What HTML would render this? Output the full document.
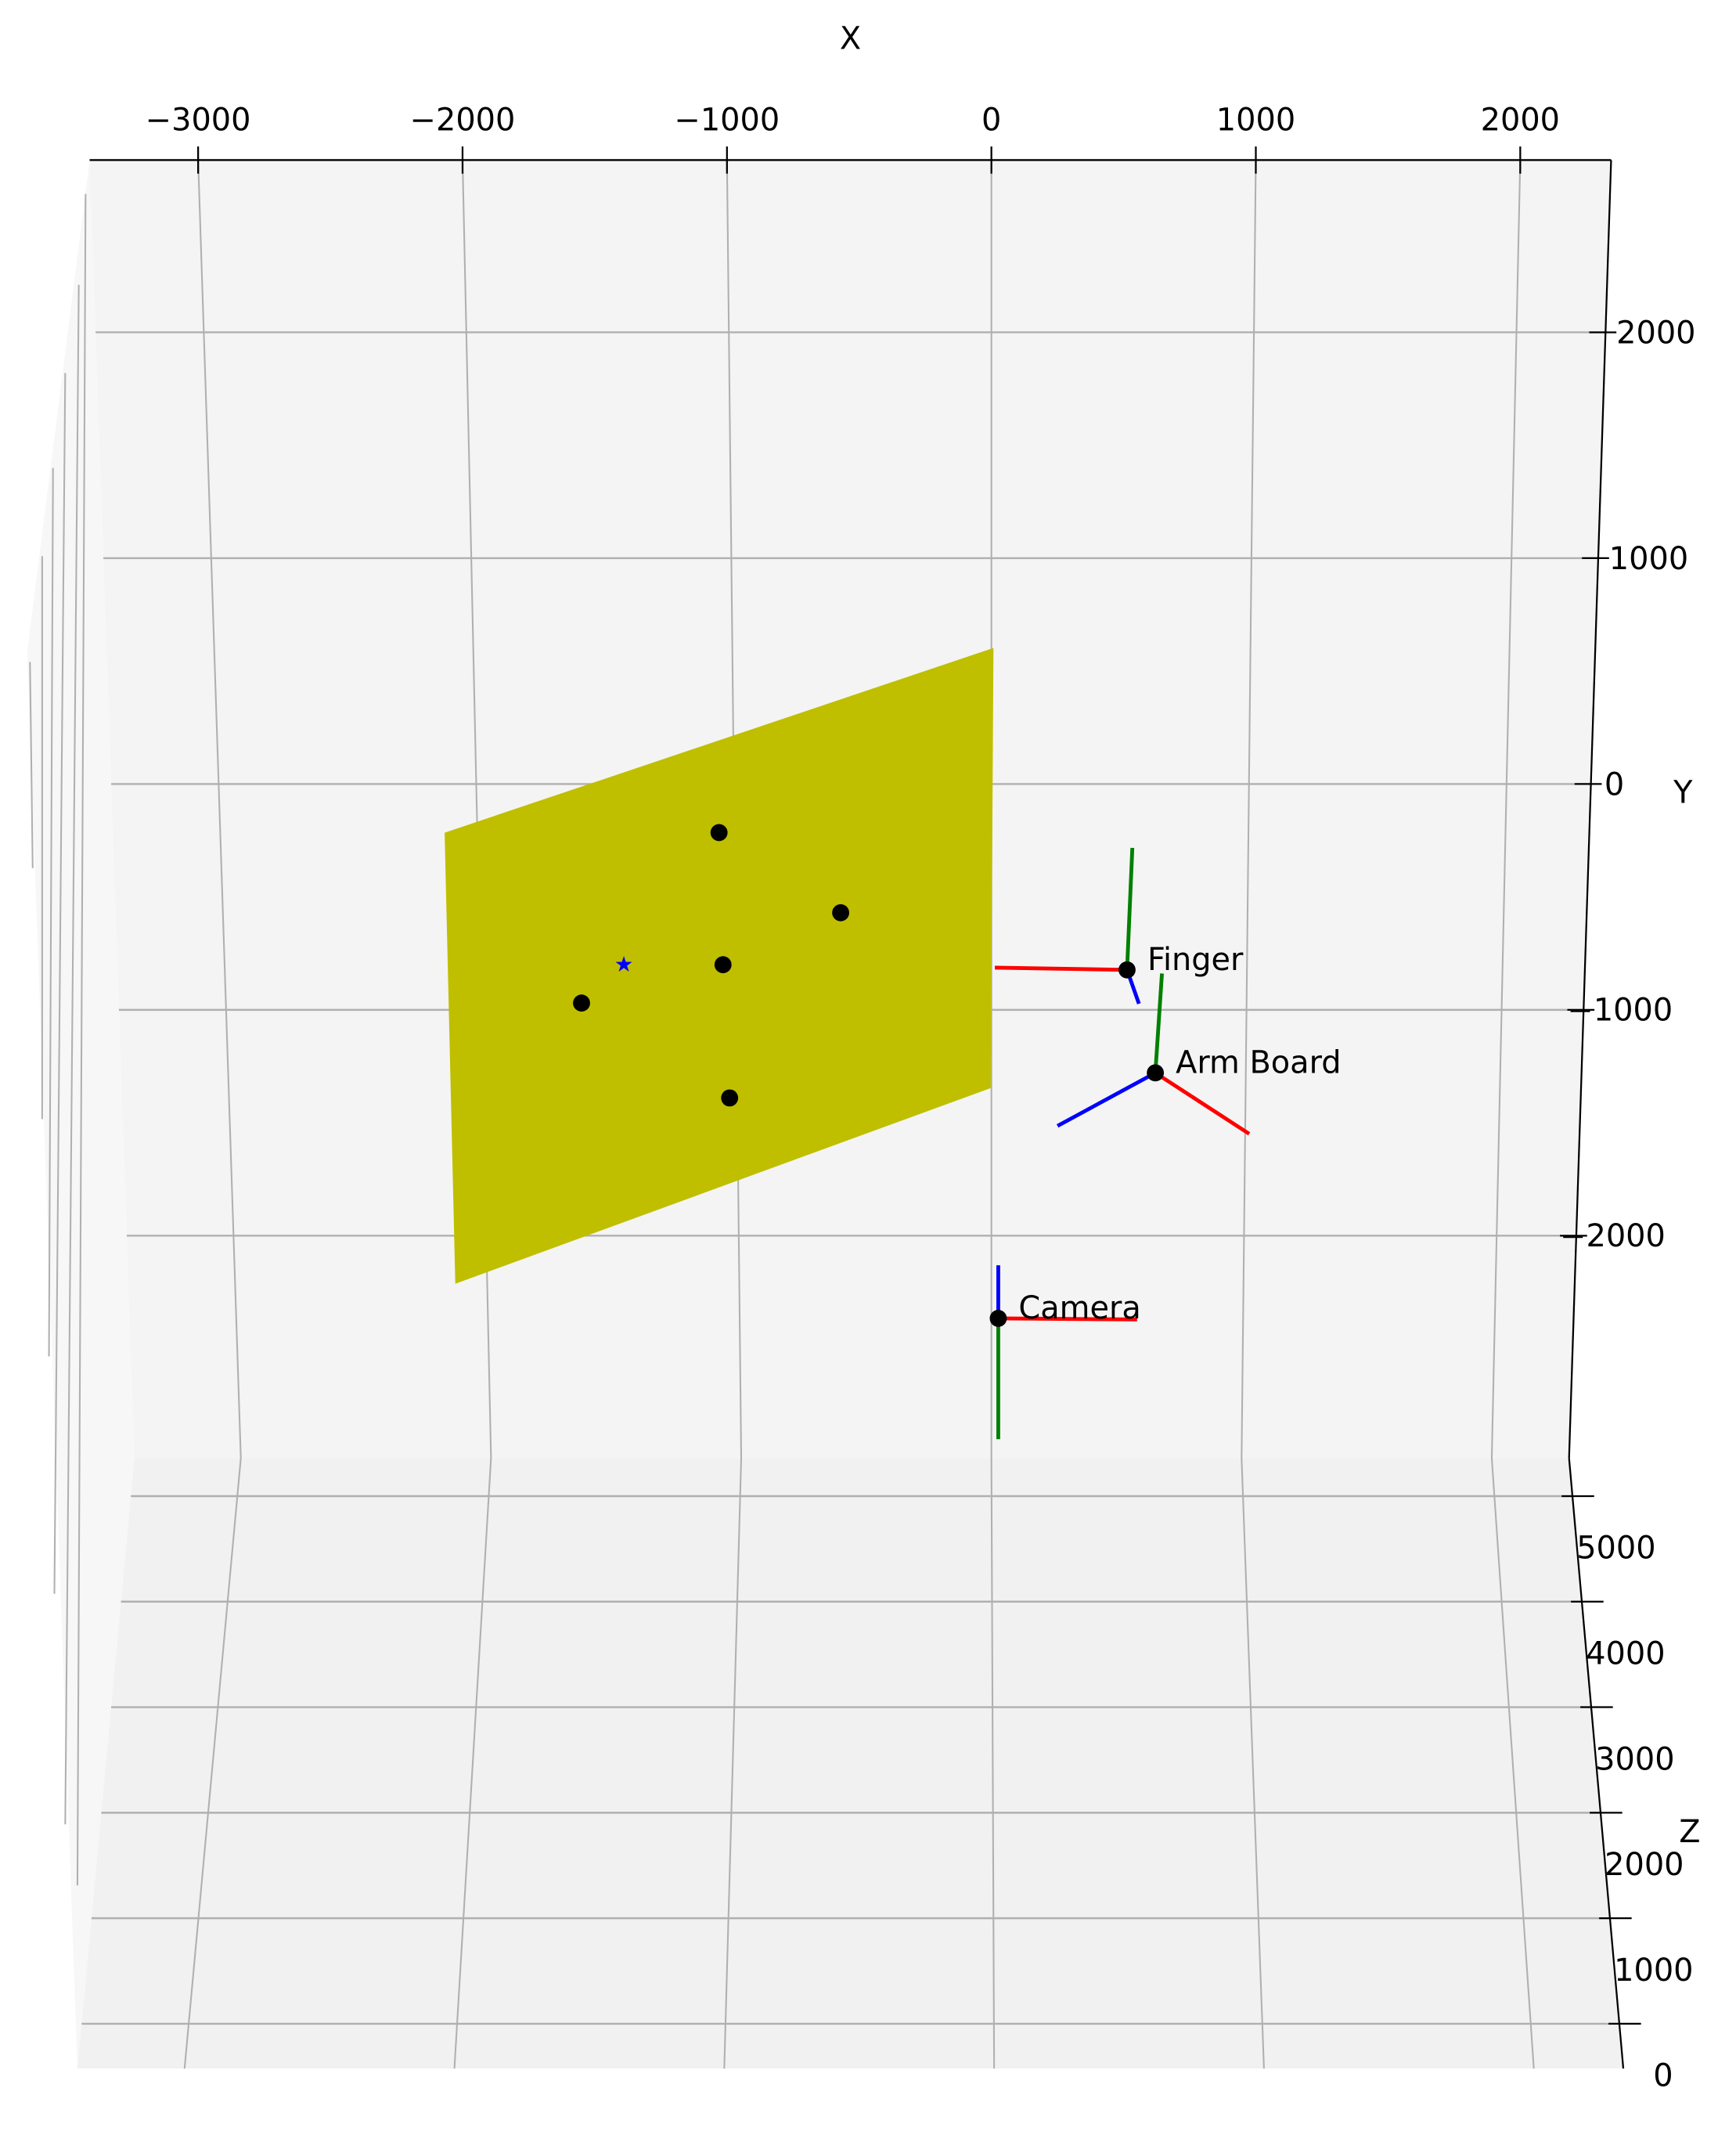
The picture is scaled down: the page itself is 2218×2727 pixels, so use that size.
<!DOCTYPE html>
<html><head><meta charset="utf-8"><style>
html,body{margin:0;padding:0;background:#fff}
svg{display:block}
text{font-family:"DejaVu Sans","Liberation Sans",sans-serif;font-size:23px;fill:#000}
</style></head><body>
<svg id="chart" width="2218" height="2727" viewBox="0 0 1280 1574" xmlns="http://www.w3.org/2000/svg">
<g>
<polygon points="66,118 99,1075 57,1525 20,480" fill="#f7f7f7"/>
<polygon points="66,118 1188,118 1157,1075 99,1075" fill="#f4f4f4"/>
<polygon points="99,1075 1157,1075 1197,1525 57,1525" fill="#f1f1f1"/>
</g>
<g id="grid" stroke="#b0b0b0" stroke-width="1.2" fill="none">
<path d="M63,143 L57,1390 M58,210 L48,1345 M48,275 L40,1175 M39,345 L36,1000 M31,410 L31,825 M22,488 L24,640"/>
</g>
<g id="marks"></g>
<g stroke="#000" stroke-width="1.3" fill="none">
<line x1="66" y1="118" x2="1188" y2="118"/>
<line x1="1188" y1="118" x2="1157" y2="1075"/>
<line x1="1157" y1="1075" x2="1197" y2="1525"/>
</g>
<text x="627" y="36" text-anchor="middle">X</text>
<text x="1241" y="592" text-anchor="middle">Y</text>
<text x="1246" y="1358" text-anchor="middle">Z</text>
</svg>
<script>
const xTicks=[-3000,-2000,-1000,0,1000,2000];
const yTicks=[2000,1000,0,-1000,-2000];
const zTicks=[5000,4000,3000,2000,1000,0];
const planeX=[-2060,0,-10,-2020];
const planeY=[-222,590,-1340,-2200];
const dotX=[-1030,-570,-1015,-1550,-990];
const dotY=[-215,-570,-800,-970,-1390];
const starX=[-1390];
const starY=[-800];
const frameNames=["Finger","Arm Board","Camera"];
const frameX=[513,620,26];
const frameY=[-823,-1279,-2366];
const redX=[-1,0.71,1.05];
const redY=[0.02,-0.54,-0.01];
const greenX=[0.04,0.05,0];
const greenY=[1.08,0.88,-1.07];
const blueX=[0.09,-0.74,0];
const blueY=[-0.3,-0.47,0.47];
const axisLen=[500,500,500];
const NS="http://www.w3.org/2000/svg";
function sx(x){return 731+x*0.195;}
function sy(y){return 578-y*0.1665;}
const marks=document.getElementById('marks');
const grid=document.getElementById('grid');
function el(t,a,p){const e=document.createElementNS(NS,t);for(const k in a)e.setAttribute(k,a[k]);(p||marks).appendChild(e);return e;}
xTicks.forEach((v,i)=>{
  const top=sx(v), mid=731+v*0.1845, bot=733+v*0.199;
  const g=el('path',{d:`M${top},118 L${mid},1075 L${bot},1525`,stroke:'#b0b0b0','stroke-width':1.2,fill:'none'},grid);
  
  
  const t=el('line',{x1:top,y1:108,x2:top,y2:128,stroke:'#000','stroke-width':1.3});
  
  
  const l=el('text',{x:top,y:96,'text-anchor':'middle'});
  l.textContent=(v<0?'\u2212':'')+Math.abs(v);
  
  
});
yTicks.forEach(v=>{
  const y=sy(v), f=(y-118)/957, lx=66+33*f, rx=1188-31*f;
  const g=el('line',{x1:lx,y1:y,x2:rx,y2:y,stroke:'#b0b0b0','stroke-width':1.4},grid);
  
  
  const t=el('line',{x1:rx-12,y1:y,x2:rx+8,y2:y,stroke:'#000','stroke-width':1.3});
  
  
  const l=el('text',{x:rx+(v<0?-12:v==0?10:8),y:y+8});
  l.textContent=(v<0?'\u2212':'')+Math.abs(v);
  
  
});
zTicks.forEach((v,i)=>{
  const y=1492-v*0.0778, f=(y-1075)/450, lx=99-42*f, rx=1157+40*f;
  const g=el('line',{x1:lx,y1:y,x2:rx,y2:y,stroke:'#b0b0b0','stroke-width':1.4},grid);
  
  
  const t=el('line',{x1:rx-8,y1:y,x2:rx+16,y2:y,stroke:'#000','stroke-width':1.3});
  
  
  const l=el('text',{x:rx+(v==0?25:3),y:y+46});
  l.textContent=String(v);
  
  
});
const pts=planeX.map((x,i)=>sx(x)+','+sy(planeY[i])).join(' ');
const plane=el('polygon',{points:pts,fill:'#bfbf00',stroke:'#bfbf00','stroke-width':3});


dotX.forEach((x,i)=>{
  const c=el('circle',{cx:sx(x),cy:sy(dotY[i]),r:6.3,fill:'#000'});
  
  
});
starX.forEach((x,i)=>{
  const t=el('text',{x:sx(x),y:sy(starY[i])+5,'text-anchor':'middle',style:'fill:#0000ff;font-size:16px'});
  t.textContent='\u2605';
  
  
});
frameNames.forEach((n,i)=>{
  const ox=frameX[i], oy=frameY[i], L=axisLen[i];
  const cx=sx(ox), cy=sy(oy);
  const segs=[['#ff0000',redX[i],redY[i],'red-axis'],['#008000',greenX[i],greenY[i],'green-axis'],['#0000ff',blueX[i],blueY[i],'blue-axis']];
  segs.forEach(s=>{
    const ln=el('line',{x1:cx,y1:cy,x2:sx(ox+s[1]*L),y2:sy(oy+s[2]*L),stroke:s[0],'stroke-width':2.8});
    
    
  });
  const c=el('circle',{cx:cx,cy:cy,r:6.3,fill:'#000'});
  
  
  const t=el('text',{x:cx+15,y:cy});
  t.textContent=n;
  
  
});
</script>
</body></html>
